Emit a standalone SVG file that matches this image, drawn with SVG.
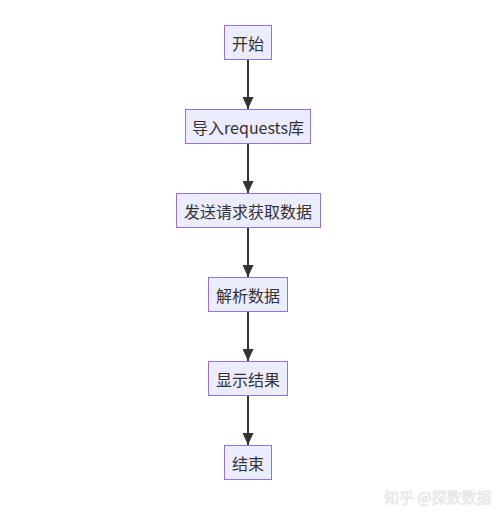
<svg xmlns="http://www.w3.org/2000/svg" width="500" height="517" viewBox="0 0 500 517">
<style>
.node rect{fill:#ECECFF;stroke:#9370DB;stroke-width:1}
.node text{font-family:"Noto Sans CJK SC","Noto Sans",sans-serif;font-size:16px;fill:#333;text-anchor:middle;dominant-baseline:central}
.edge{stroke:#333;stroke-width:2;fill:none}
.wm{font-family:"Noto Sans CJK SC",sans-serif;font-size:15px;fill:#f6f6f6;stroke:#e0e0e0;stroke-width:0.5}
</style>
<defs>
<marker id="arrow" viewBox="0 0 12 11" refX="12" refY="5.5" markerWidth="12" markerHeight="11" markerUnits="userSpaceOnUse" orient="auto">
<path d="M0,0 L12,5.5 L0,11 z" fill="#333"/>
</marker>
</defs>
<rect width="500" height="517" fill="#fff"/>
<g id="connectors">
<line class="edge" x1="248" y1="59" x2="248" y2="109" marker-end="url(#arrow)"/>
<line class="edge" x1="248" y1="143" x2="248" y2="193" marker-end="url(#arrow)"/>
<line class="edge" x1="248" y1="227" x2="248" y2="277" marker-end="url(#arrow)"/>
<line class="edge" x1="248" y1="311" x2="248" y2="361" marker-end="url(#arrow)"/>
<line class="edge" x1="248" y1="395" x2="248" y2="445" marker-end="url(#arrow)"/>
</g>
<g id="start" class="node"><rect x="224.5" y="25.5" width="47" height="34"/><text x="248" y="43">开始</text></g>
<g id="import" class="node"><rect x="185.5" y="109.5" width="125" height="34"/><text x="248" y="127">导入requests库</text></g>
<g id="request" class="node"><rect x="176.5" y="193.5" width="144" height="34"/><text x="248" y="211">发送请求获取数据</text></g>
<g id="parse" class="node"><rect x="208.5" y="277.5" width="79" height="34"/><text x="248" y="295">解析数据</text></g>
<g id="show" class="node"><rect x="208.5" y="361.5" width="79" height="34"/><text x="248" y="379">显示结果</text></g>
<g id="end" class="node"><rect x="224.5" y="445.5" width="47" height="34"/><text x="248" y="463">结束</text></g>
<text class="wm" x="384" y="503">知乎 @探数数据</text>
</svg>
